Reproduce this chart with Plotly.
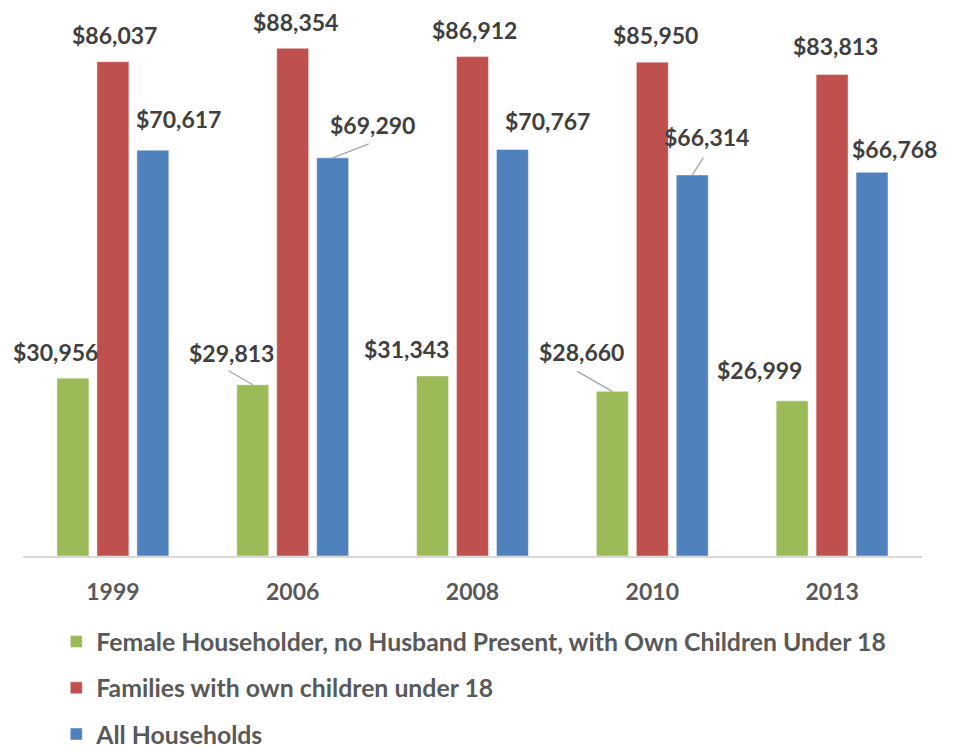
import plotly.graph_objects as go

# Median household income by household type
years = ["1999", "2006", "2008", "2010", "2013"]
female_householder = [30956, 29813, 31343, 28660, 26999]
families_with_children = [86037, 88354, 86912, 85950, 83813]
all_households = [70617, 69290, 70767, 66314, 66768]

series_names = [
    "Female Householder, no Husband Present, with Own Children Under 18",
    "Families with own children under 18",
    "All Households",
]
series_values = [female_householder, families_with_children, all_households]
series_colors = ["#9BBB59", "#C0504D", "#4F81BD"]

# label placement relative to the top-centre of each bar, in pixels (dx right, dy up)
label_offsets = [
    [(-17, 26), (-21, 32), (-26, 27), (-31, 39), (-33, 31)],
    [(2, 27), (3, 26), (2, 27), (3, 27), (3, 28)],
    [(26, 31), (40, 33), (35, 28), (14, 38), (22, 23)],
]
# leader lines: (series index, year index, start dx, start dy) -> to bar top
leaders = [(0, 1, -24, 14), (0, 3, -35, 20), (2, 1, 36, 14), (2, 3, 11, 17)]

BAR_GAP = 1 / 3
GROUP_GAP = 0.2
slot = (1 - BAR_GAP) / len(series_values)
positions = list(range(len(years)))

LABEL_FONT = dict(family="Lato, Open Sans, sans-serif", size=23, color="#404040", weight=700)
AXIS_FONT = dict(family="Lato, Open Sans, sans-serif", size=23, color="#595959", weight=700)
LEGEND_FONT = dict(family="Lato, Open Sans, sans-serif", size=24.8, color="#595959", weight=700)

fig = go.Figure()
for name, vals, color in zip(series_names, series_values, series_colors):
    fig.add_trace(go.Bar(
        x=positions, y=vals, name=name, legendgroup=name,
        marker=dict(color=color, line=dict(color="rgba(255,255,255,0.45)", width=1)),
        hoverinfo="y",
    ))

annotations = []
for s, (vals, offs) in enumerate(zip(series_values, label_offsets)):
    for i, (v, (dx, dy)) in enumerate(zip(vals, offs)):
        annotations.append(dict(
            x=positions[i] + (s - 1) * slot, y=v, xref="x", yref="y",
            text=f"${v:,}", showarrow=False, xanchor="center", yanchor="middle",
            xshift=dx, yshift=dy, font=LABEL_FONT,
        ))

shapes = []
for s, i, sx, sy in leaders:
    shapes.append(dict(
        type="line", xref="x", yref="y", xsizemode="pixel", ysizemode="pixel",
        xanchor=positions[i] + (s - 1) * slot, yanchor=series_values[s][i],
        x0=sx, y0=sy, x1=0, y1=0,
        line=dict(color="#A6A6A6", width=1.3),
    ))

fig.update_layout(
    width=953, height=749,
    margin=dict(l=23, r=31, t=4, b=193, autoexpand=False),
    paper_bgcolor="white", plot_bgcolor="white",
    barmode="group", bargap=BAR_GAP, bargroupgap=GROUP_GAP,
    annotations=annotations, shapes=shapes,
    showlegend=True,
    legend=dict(
        orientation="v", x=0.037, xanchor="left", y=-0.114, yanchor="top",
        font=LEGEND_FONT, tracegroupgap=11, traceorder="grouped",
        bgcolor="rgba(0,0,0,0)",
    ),
    xaxis=dict(
        tickmode="array", tickvals=positions, ticktext=years,
        range=[-0.5, len(years) - 0.5],
        showgrid=False, zeroline=False,
        showline=True, linecolor="#D9D9D9", linewidth=2,
        ticks="", tickfont=AXIS_FONT, ticklabelstandoff=14,
    ),
    yaxis=dict(range=[0, 96070], visible=False, showgrid=False, zeroline=False),
)

fig.write_html("out.html")
